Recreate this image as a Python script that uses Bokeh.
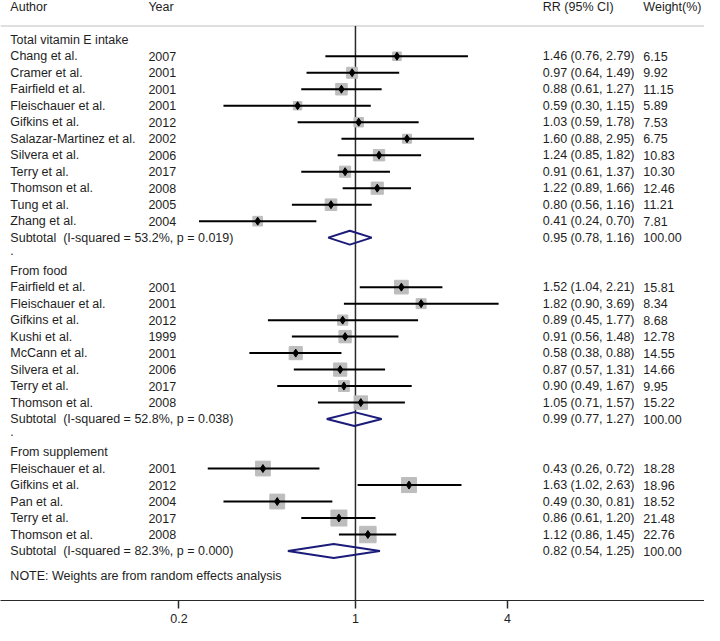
import math
from bokeh.plotting import figure
from bokeh.models import Range1d, FixedTicker, CustomJSTickFormatter, ColumnDataSource
from bokeh.core.properties import value
from bokeh.embed import file_html
from bokeh.resources import INLINE

# ---------------- data ----------------
group_names = ["Total vitamin E intake", "From food", "From supplement"]

total_authors = ["Chang et al.", "Cramer et al.", "Fairfield et al.", "Fleischauer et al.",
                 "Gifkins et al.", "Salazar-Martinez et al.", "Silvera et al.", "Terry et al.",
                 "Thomson et al.", "Tung et al.", "Zhang et al."]
total_years = ["2007", "2001", "2001", "2001", "2012", "2002", "2006", "2017", "2008", "2005", "2004"]
total_rr = [1.46, 0.97, 0.88, 0.59, 1.03, 1.60, 1.24, 0.91, 1.22, 0.80, 0.41]
total_lo = [0.76, 0.64, 0.61, 0.30, 0.59, 0.88, 0.85, 0.61, 0.89, 0.56, 0.24]
total_hi = [2.79, 1.49, 1.27, 1.15, 1.78, 2.95, 1.82, 1.37, 1.66, 1.16, 0.70]
total_w = [6.15, 9.92, 11.15, 5.89, 7.53, 6.75, 10.83, 10.30, 12.46, 11.21, 7.81]

food_authors = ["Fairfield et al.", "Fleischauer et al.", "Gifkins et al.", "Kushi et al.",
                "McCann et al.", "Silvera et al.", "Terry et al.", "Thomson et al."]
food_years = ["2001", "2001", "2012", "1999", "2001", "2006", "2017", "2008"]
food_rr = [1.52, 1.82, 0.89, 0.91, 0.58, 0.87, 0.90, 1.05]
food_lo = [1.04, 0.90, 0.45, 0.56, 0.38, 0.57, 0.49, 0.71]
food_hi = [2.21, 3.69, 1.77, 1.48, 0.88, 1.31, 1.67, 1.57]
food_w = [15.81, 8.34, 8.68, 12.78, 14.55, 14.66, 9.95, 15.22]

supp_authors = ["Fleischauer et al.", "Gifkins et al.", "Pan et al.", "Terry et al.", "Thomson et al."]
supp_years = ["2001", "2012", "2004", "2017", "2008"]
supp_rr = [0.43, 1.63, 0.49, 0.86, 1.12]
supp_lo = [0.26, 1.02, 0.30, 0.61, 0.86]
supp_hi = [0.72, 2.63, 0.81, 1.20, 1.45]
supp_w = [18.28, 18.96, 18.52, 21.48, 22.76]

sub_i2 = ["53.2%", "52.8%", "82.3%"]
sub_p = ["0.019", "0.038", "0.000"]
sub_rr = [0.95, 0.99, 0.82]
sub_lo = [0.78, 0.77, 0.54]
sub_hi = [1.16, 1.27, 1.25]

tick_values = [0.2, 1, 4]
header_labels = ["Author", "Year", "RR (95% CI)", "Weight(%)"]
note_text = "NOTE: Weights are from random effects analysis"

# ---------------- layout helpers ----------------
X1_PX = 363.0
PX_PER_LN = 111.2
def px_to_x(px):
    return math.exp((px - X1_PX) / PX_PER_LN)

COL_AUTHOR = px_to_x(13)
COL_YEAR = px_to_x(153)
COL_RR = px_to_x(553)
COL_W = px_to_x(655)

FONT = "Liberation Sans"
FSIZE = "12.5px"
TXT = "#1e1e1e"

groups = [
    (total_authors, total_years, total_rr, total_lo, total_hi, total_w),
    (food_authors, food_years, food_rr, food_lo, food_hi, food_w),
    (supp_authors, supp_years, supp_rr, supp_lo, supp_hi, supp_w),
]

# build rows
txt_x, txt_y, txt_t = [], [], []
st_y, st_rr, st_lo, st_hi, st_w = [], [], [], [], []
dia_xs, dia_ys = [], []
row = 0
for gi, (au, yr, rr, lo, hi, w) in enumerate(groups):
    txt_x.append(COL_AUTHOR); txt_y.append(row); txt_t.append(group_names[gi])
    row += 1
    for i in range(len(au)):
        txt_x += [COL_AUTHOR, COL_YEAR, COL_RR, COL_W]
        txt_y += [row] * 4
        txt_t += [au[i], yr[i], "%.2f (%.2f, %.2f)" % (rr[i], lo[i], hi[i]), "%.2f" % w[i]]
        st_y.append(row); st_rr.append(rr[i]); st_lo.append(lo[i]); st_hi.append(hi[i]); st_w.append(w[i])
        row += 1
    txt_x += [COL_AUTHOR, COL_RR, COL_W]
    txt_y += [row] * 3
    txt_t += ["Subtotal\u00a0 (I-squared = %s, p = %s)" % (sub_i2[gi], sub_p[gi]),
              "%.2f (%.2f, %.2f)" % (sub_rr[gi], sub_lo[gi], sub_hi[gi]), "100.00"]
    dia_xs.append([sub_lo[gi], sub_rr[gi], sub_hi[gi], sub_rr[gi]])
    dia_ys.append([row, row - 0.42, row, row + 0.42])
    row += 1
    if gi < len(groups) - 1:
        txt_x.append(COL_AUTHOR); txt_y.append(row - 0.25); txt_t.append(".")
        row += 1

NOTE_ROW = row + 0.5
HEADER_ROW = -1.96
HLINE_ROW = -0.83
BOTTOM_ROW = 34.0
TOP_ROW = -2.38

p = figure(width=704, height=625, x_axis_type="log",
           x_range=Range1d(px_to_x(3), px_to_x(717)),
           y_range=Range1d(BOTTOM_ROW, TOP_ROW),
           output_backend="svg", toolbar_location=None,
           y_axis_location=None, min_border=0)
p.grid.visible = False
p.outline_line_color = None
p.background_fill_color = "white"

# header line and null line
p.segment(x0=[px_to_x(3)], x1=[px_to_x(717)], y0=[HLINE_ROW], y1=[HLINE_ROW],
          line_color="#d4d4d4", line_width=1.5)
p.segment(x0=[1], x1=[1], y0=[HLINE_ROW], y1=[BOTTOM_ROW], line_color="#2a2a2a", line_width=1.5)

# study markers
src = ColumnDataSource(dict(y=st_y, rr=st_rr, lo=st_lo, hi=st_hi,
                            size=[3.45 * math.sqrt(w) for w in st_w]))
p.scatter(x="rr", y="y", size="size", marker="square", source=src,
          fill_color="#bdbdbd", line_color="#bdbdbd")
p.segment(x0="lo", x1="hi", y0="y", y1="y", source=src, line_color="black", line_width=2)
p.scatter(x="rr", y="y", size=8, marker="diamond", source=src,
          fill_color="black", line_color="black")

# subtotal diamonds
p.patches(xs=dia_xs, ys=dia_ys, fill_alpha=0, line_color="#1b1b7a", line_width=2)

# texts
p.text(x=txt_x, y=txt_y, text=txt_t, text_font=value(FONT), text_font_size=value(FSIZE),
       text_baseline="middle", text_align="left", text_color=TXT)
hx = [COL_AUTHOR, COL_YEAR, COL_RR, COL_W]
p.text(x=hx, y=[HEADER_ROW] * 4, text=header_labels, text_font=value(FONT),
       text_font_size=value(FSIZE), text_baseline="middle", text_align="left", text_color=TXT)
p.text(x=[COL_AUTHOR], y=[NOTE_ROW], text=[note_text], text_font=value(FONT),
       text_font_size=value(FSIZE), text_baseline="middle", text_align="left", text_color=TXT)

# axis
ax = p.xaxis[0]
ax.ticker = FixedTicker(ticks=tick_values, minor_ticks=[])
ax.formatter = CustomJSTickFormatter(code="return String(Math.round(tick*10)/10)")
ax.axis_line_color = "#2a2a2a"
ax.axis_line_width = 1.2
ax.major_tick_line_color = "#2a2a2a"
ax.major_tick_line_width = 1.5
ax.major_tick_out = 8
ax.major_tick_in = 0
ax.minor_tick_line_color = None
ax.major_label_standoff = 5
ax.major_label_text_font = FONT
ax.major_label_text_font_size = FSIZE
ax.major_label_text_color = TXT
ax.major_label_text_font_style = "normal"

open("out.html", "w").write(file_html(p, INLINE))
